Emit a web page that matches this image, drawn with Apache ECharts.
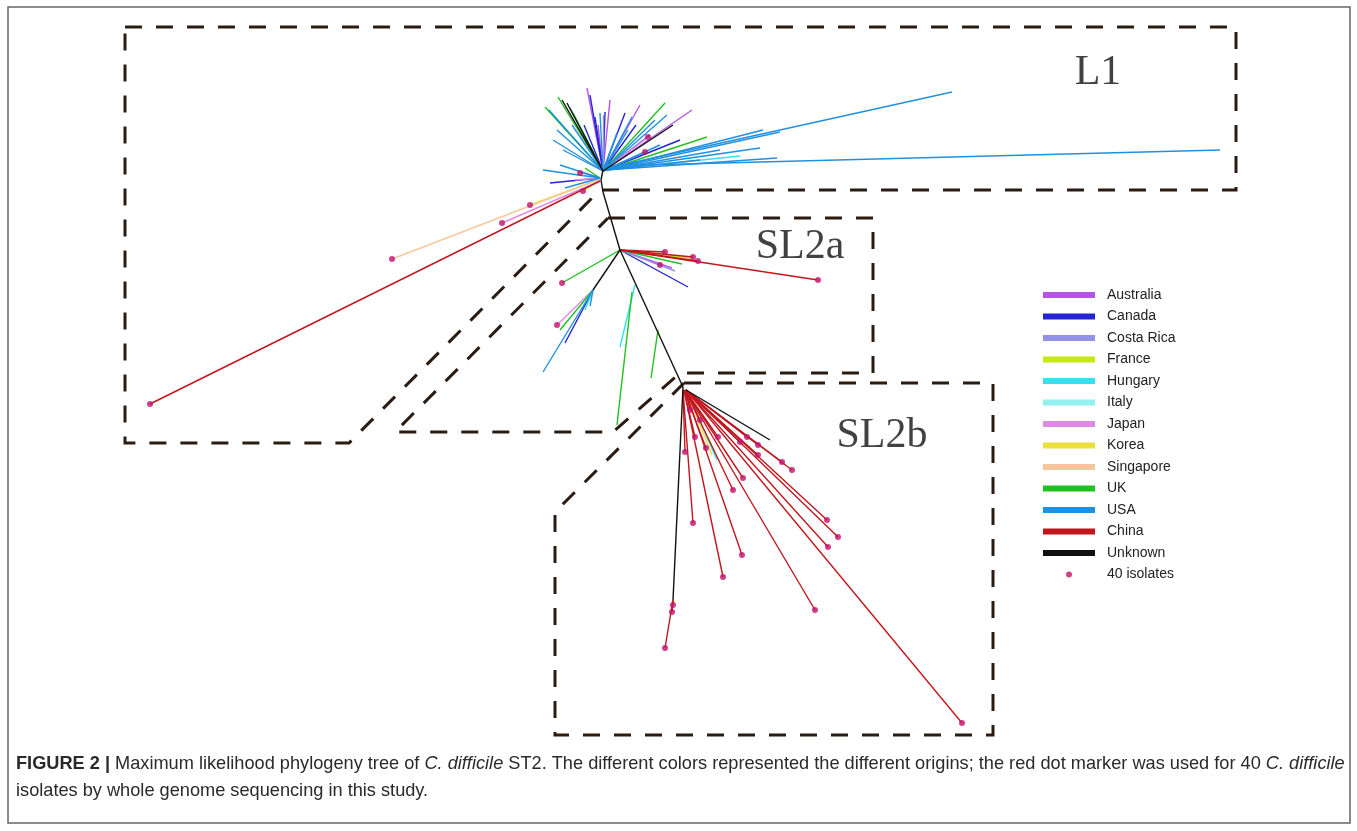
<!DOCTYPE html>
<html>
<head>
<meta charset="utf-8">
<script src="https://cdn.jsdelivr.net/npm/echarts@6/dist/echarts.min.js"></script>
<style>
  html, body { margin: 0; padding: 0; background: #fff; }
  #chart { width: 1357px; height: 831px; }
</style>
</head>
<body>
<div id="chart"></div>
<script>
// countries (legend order) and their colours
const countries = ['Australia', 'Canada', 'Costa Rica', 'France', 'Hungary', 'Italy', 'Japan',
  'Korea', 'Singapore', 'UK', 'USA', 'China', 'Unknown'];
const countryKeys = ['AU', 'CA', 'CR', 'FR', 'HU', 'IT', 'JP', 'KR', 'SG', 'UK', 'US', 'CN', 'UN'];
const countryColors = ['#b455e6', '#2424d4', '#9292e6', '#c8e814', '#2fe4ef', '#92f0ee', '#e08ae8',
  '#ece03c', '#f4c89e', '#1fc21f', '#2090e0', '#c2161e', '#111111'];

// tree branches: [x1, y1, x2, y2, origin]
const branches = [
  // backbone
  [601, 180, 603, 192, 'UN'], [603, 192, 620, 250, 'UN'], [620, 250, 683, 387, 'UN'], [601, 180, 603, 170, 'UN'],
  // L1 fan
  [603, 171, 545, 107, 'UK'], [603, 171, 558, 97, 'UK'], [603, 171, 567, 103, 'UN'], [603, 171, 573, 113, 'UK'],
  [603, 171, 549, 110, 'US'], [603, 171, 562, 100, 'UN'], [603, 171, 570, 108, 'UK'],
  [603, 171, 553, 140, 'US'], [603, 171, 557, 130, 'US'], [603, 171, 563, 150, 'US'], [603, 171, 572, 125, 'US'],
  [603, 171, 587, 88, 'AU'], [603, 171, 590, 95, 'CA'], [603, 171, 595, 117, 'CA'], [603, 171, 600, 113, 'US'],
  [603, 171, 584, 125, 'CA'], [603, 171, 598, 125, 'AU'], [603, 171, 603, 115, 'CR'],
  [603, 171, 610, 100, 'AU'], [603, 171, 605, 112, 'CA'], [603, 171, 617, 133, 'US'], [603, 171, 625, 113, 'CA'],
  [603, 171, 640, 105, 'AU'], [603, 171, 632, 117, 'US'], [603, 171, 636, 125, 'CA'], [603, 171, 665, 103, 'UK'],
  [603, 171, 667, 115, 'US'], [603, 171, 692, 110, 'AU'], [603, 171, 673, 125, 'UN'], [603, 171, 707, 137, 'UK'],
  [603, 171, 650, 135, 'CA'], [603, 171, 648, 137, 'JP'], [603, 171, 645, 152, 'CR'], [603, 171, 660, 145, 'US'],
  [603, 171, 680, 140, 'CA'], [603, 171, 628, 130, 'US'], [603, 171, 655, 120, 'US'],
  [606, 170, 763, 130, 'US'], [606, 170, 780, 132, 'US'], [606, 170, 760, 148, 'US'],
  [606, 170, 777, 158, 'US'], [606, 170, 700, 160, 'US'], [606, 170, 740, 156, 'HU'], [606, 170, 720, 150, 'US'],
  [608, 168, 952, 92, 'US'], [608, 166, 1220, 150, 'US'],
  // L1 left side
  [600, 178, 543, 170, 'US'], [600, 178, 550, 183, 'CA'], [600, 178, 560, 165, 'US'], [600, 178, 580, 172, 'AU'],
  [600, 178, 575, 180, 'JP'], [600, 178, 565, 188, 'US'], [600, 178, 585, 168, 'UK'], [600, 180, 583, 191, 'FR'],
  [600, 181, 150, 404, 'CN'], [600, 181, 502, 223, 'JP'], [600, 179, 392, 259, 'SG'], [600, 179, 530, 205, 'KR'],
  // SL2a
  [620, 250, 818, 280, 'CN'], [620, 250, 665, 252, 'CN'], [620, 250, 693, 257, 'CN'], [620, 250, 698, 261, 'CN'],
  [620, 250, 682, 264, 'UK'], [620, 250, 690, 258, 'FR'], [620, 250, 688, 287, 'CA'], [620, 250, 672, 268, 'AU'],
  [620, 250, 675, 271, 'CR'], [620, 250, 562, 283, 'UK'], [620, 250, 593, 290, 'UN'],
  [593, 290, 543, 372, 'US'], [593, 290, 565, 343, 'CA'], [593, 290, 557, 325, 'JP'], [593, 290, 560, 330, 'UK'],
  [593, 290, 590, 306, 'US'], [593, 290, 585, 310, 'HU'],
  [635, 285, 620, 347, 'HU'], [632, 292, 617, 425, 'UK'], [658, 330, 651, 378, 'UK'],
  // SL2b
  [683, 387, 673, 600, 'UN'], [673, 600, 665, 648, 'CN'], [673, 600, 672, 612, 'CN'], [673, 600, 673, 605, 'FR'],
  [683, 390, 685, 452, 'CN'], [683, 390, 693, 523, 'CN'], [684, 390, 695, 437, 'CN'], [684, 390, 706, 448, 'CN'],
  [684, 390, 723, 577, 'CN'], [685, 390, 718, 437, 'CN'], [685, 390, 742, 555, 'CN'], [685, 390, 733, 490, 'CN'],
  [685, 390, 743, 478, 'CN'], [685, 390, 815, 610, 'CN'], [686, 390, 740, 442, 'CN'], [686, 390, 747, 437, 'CN'],
  [686, 390, 758, 445, 'CN'], [686, 390, 758, 455, 'CN'], [686, 390, 782, 462, 'CN'], [686, 390, 792, 470, 'CN'],
  [686, 390, 827, 520, 'CN'], [686, 390, 838, 537, 'CN'], [686, 390, 828, 547, 'CN'], [686, 390, 962, 723, 'CN'],
  [686, 390, 717, 460, 'HU'], [686, 390, 770, 440, 'UN'], [686, 390, 712, 455, 'KR'], [686, 390, 700, 420, 'CN'],
  [686, 390, 690, 410, 'CN']
];

// the 40 isolates of this study (red dots)
const isolateDots = [
  [150, 404], [502, 223], [392, 259], [530, 205], [580, 173], [583, 191], [648, 137], [645, 152],
  [818, 280], [665, 252], [693, 257], [698, 261], [660, 265], [562, 283], [557, 325],
  [665, 648], [672, 612], [673, 605], [685, 452], [693, 523], [695, 437], [706, 448], [723, 577],
  [718, 437], [742, 555], [733, 490], [743, 478], [815, 610], [740, 442], [747, 437], [758, 445],
  [758, 455], [782, 462], [792, 470], [827, 520], [838, 537], [828, 547], [962, 723], [700, 420], [690, 410]
];

// lineage outlines
const boxL1 = [[125, 27], [1236, 27], [1236, 190], [600, 190], [349, 443], [125, 443], [125, 27]];
const boxSL2a = [[608, 218], [873, 218], [873, 373], [680, 373], [613, 432], [395, 432], [608, 218]];
const boxSL2b = [[684, 383], [993, 383], [993, 735], [555, 735], [555, 512], [684, 383]];
const cladeLabels = [['L1', 1098, 73], ['SL2a', 800, 247], ['SL2b', 882, 436]];

const chart = echarts.init(document.getElementById('chart'));

const series = countryKeys.map((key, i) => ({
  name: countries[i],
  type: 'lines',
  coordinateSystem: 'cartesian2d',
  silent: true,
  z: key === 'UN' ? 3 : 2,
  lineStyle: { color: countryColors[i], width: 1.4, opacity: 1 },
  itemStyle: { color: countryColors[i] },
  data: branches.filter(b => b[4] === key).map(b => ({ coords: [[b[0], b[1]], [b[2], b[3]]] }))
}));

series.push({
  name: 'outlines',
  type: 'lines',
  coordinateSystem: 'cartesian2d',
  polyline: true,
  silent: true,
  z: 1,
  lineStyle: { color: '#2a1c12', width: 3, type: [17, 14], opacity: 1 },
  data: [boxL1, boxSL2a, boxSL2b].map(b => ({ coords: b }))
});

series.push({
  name: '40 isolates',
  type: 'scatter',
  symbolSize: 6,
  z: 4,
  itemStyle: { color: '#c2126c' },
  data: isolateDots
});

series.push({
  name: 'clades',
  type: 'scatter',
  symbolSize: 0,
  silent: true,
  label: {
    show: true, position: 'inside', formatter: p => p.data[2],
    fontFamily: 'Liberation Serif', fontSize: 42, color: '#111'
  },
  data: cladeLabels.map(c => [c[1], c[2], c[0]])
});

const legendIcon = 'path://M0,0H50V4H0Z';

const option = {
  animation: false,
  grid: { left: 0, right: 0, top: 0, bottom: 0 },
  xAxis: { type: 'value', min: 0, max: 1357, show: false },
  yAxis: { type: 'value', min: 0, max: 831, inverse: true, show: false },
  legend: {
    orient: 'vertical',
    left: 1038,
    top: 283,
    itemWidth: 50,
    itemHeight: 6,
    itemGap: 7.5,
    selectedMode: false,
    textStyle: { fontFamily: 'Liberation Sans', fontSize: 14, color: '#222', padding: [0, 0, 0, 8] },
    data: countries.map((c, i) => ({ name: c, icon: legendIcon, itemStyle: { color: countryColors[i] } }))
      .concat([{ name: '40 isolates', icon: 'circle', itemStyle: { color: '#c2126c' } }])
  },
  graphic: [
    {
      type: 'rect', silent: true,
      shape: { x: 8, y: 7, width: 1342, height: 816 },
      style: { fill: 'none', stroke: '#666', lineWidth: 1.5 }
    },
    {
      type: 'text', left: 16, top: 750, silent: true,
      style: {
        text: '{b|FIGURE 2 |} Maximum likelihood phylogeny tree of {i|C. difficile} ST2. The different colors represented the different origins; the red dot marker was used for 40 {i|C. difficile}\nisolates by whole genome sequencing in this study.',
        fontFamily: 'Liberation Sans', fontSize: 18.2, fill: '#2a2a2a', lineHeight: 27,
        rich: {
          b: { fontWeight: 'bold', fontFamily: 'Liberation Sans', fontSize: 18.2, fill: '#2a2a2a', lineHeight: 27 },
          i: { fontStyle: 'italic', fontFamily: 'Liberation Sans', fontSize: 18.2, fill: '#2a2a2a', lineHeight: 27 }
        }
      }
    }
  ],
  series: series
};

chart.setOption(option);
</script>
</body>
</html>
